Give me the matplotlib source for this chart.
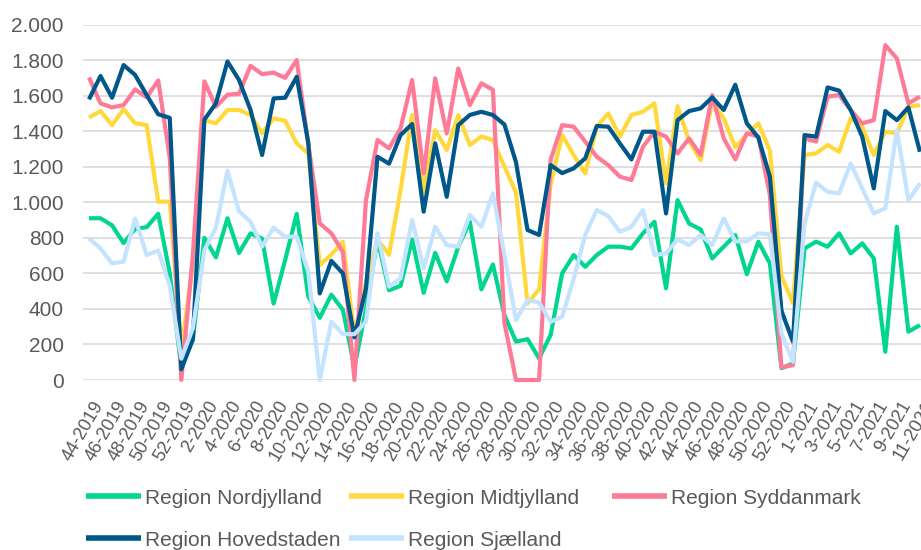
import matplotlib
matplotlib.use("Agg")
import matplotlib.pyplot as plt
from matplotlib.ticker import FuncFormatter, FixedLocator
from matplotlib.transforms import ScaledTranslation

weeks = ([f"{w}-2019" for w in range(44, 53)] +
         [f"{w}-2020" for w in range(1, 54)] +
         [f"{w}-2021" for w in range(1, 12)])

nordjylland = [910, 910, 870, 770, 850, 860, 935, 600, 70, 225,
               800, 690, 910, 715, 825, 795, 430, 675, 935, 470,
               350, 480, 395, 70, 400, 790, 505, 530, 790, 490,
               715, 555, 750, 890, 510, 650, 365, 216, 230, 122,
               253, 600, 703, 637, 703, 750, 750, 740, 825, 890,
               516, 1012, 880, 847, 684, 750, 815, 595, 778, 656,
               66, 94, 740, 778, 750, 825, 712, 769, 684, 159,
               862, 272, 309]

midtjylland = [1477, 1513, 1434, 1524, 1444, 1434, 1003, 1003, 170, 650,
               1462, 1444, 1519, 1519, 1491, 1388, 1472, 1459, 1331, 1275,
               647, 705, 778, 255, 550, 790, 705, 1069, 1491, 1059,
               1406, 1294, 1491, 1322, 1370, 1350, 1200, 1055, 431, 510,
               1100, 1378, 1265, 1162, 1425, 1500, 1369, 1491, 1509, 1556,
               1106, 1541, 1345, 1237, 1566, 1472, 1310, 1380, 1444, 1290,
               585, 431, 1266, 1275, 1322, 1284, 1472, 1425, 1266, 1397,
               1388, 1537, 1547]

syddanmark = [1702, 1556, 1534, 1547, 1635, 1590, 1685, 1250, 0, 700,
              1680, 1537, 1605, 1610, 1768, 1721, 1729, 1700, 1800, 1330,
              881, 825, 720, 0, 1012, 1350, 1303, 1416, 1688, 1162,
              1697, 1387, 1753, 1547, 1669, 1633, 320, 0, 0, 0,
              1240, 1434, 1425, 1341, 1256, 1209, 1144, 1125, 1312, 1397,
              1369, 1275, 1359, 1266, 1603, 1359, 1241, 1388, 1369, 1040,
              70, 84, 1359, 1341, 1594, 1603, 1519, 1444, 1462, 1884,
              1809, 1556, 1594]

hovedstaden = [1579, 1710, 1588, 1772, 1716, 1603, 1495, 1475, 60, 230,
               1465, 1556, 1792, 1688, 1519, 1266, 1584, 1588, 1706, 1335,
               487, 670, 600, 240, 515, 1256, 1217, 1378, 1440, 947,
               1331, 1031, 1434, 1491, 1509, 1491, 1437, 1225, 844, 816,
               1209, 1164, 1191, 1247, 1429, 1425, 1331, 1241, 1397, 1397,
               937, 1462, 1513, 1528, 1590, 1519, 1661, 1444, 1364, 1144,
               390, 215, 1378, 1369, 1646, 1628, 1519, 1369, 1078, 1513,
               1462, 1534, 1284]

sjaelland = [797, 740, 656, 666, 909, 703, 729, 530, 120, 290,
             730, 857, 1177, 950, 890, 750, 857, 806, 806, 610,
             0, 328, 258, 258, 328, 825, 525, 572, 900, 628,
             862, 759, 750, 928, 862, 1050, 705, 337, 450, 436,
             328, 356, 570, 816, 956, 922, 834, 862, 956, 703,
             712, 791, 759, 816, 759, 909, 780, 780, 825, 820,
             262, 103, 881, 1110, 1059, 1050, 1219, 1078, 937, 966,
             1406, 1012, 1106]

series_names = ["Region Nordjylland", "Region Midtjylland", "Region Syddanmark",
                "Region Hovedstaden", "Region Sjælland"]
series_values = [nordjylland, midtjylland, syddanmark, hovedstaden, sjaelland]
series_colors = ["#00d68f", "#ffd93b", "#ff7a96", "#00578a", "#c4e3ff"]

yticks = [0, 200, 400, 600, 800, 1000, 1200, 1400, 1600, 1800, 2000]

plt.rcParams['font.family'] = ['Liberation Sans', 'DejaVu Sans']
TXT = "#595959"

fig = plt.figure(figsize=(9.21, 5.5), dpi=100)
W, H = 921, 550
x0, x1 = 83.2, 925.7
ytop, ybot = 24.5, 380.0
ax = fig.add_axes([x0 / W, 1 - ybot / H, (x1 - x0) / W, (ybot - ytop) / H])

x = list(range(len(weeks)))
lines = []
for name, vals, col in zip(series_names, series_values, series_colors):
    ln, = ax.plot(x, vals, color=col, lw=3.0, label=name, clip_on=False,
                  solid_joinstyle='round', solid_capstyle='butt', zorder=3)
    lines.append(ln)

ax.set_xlim(-0.5, len(weeks) - 0.5)
ax.set_ylim(0, 2000)
ax.set_yticks(yticks)
ax.yaxis.set_major_formatter(FuncFormatter(lambda v, p: f"{v:,.0f}".replace(",", ".")))
ax.grid(axis='y', color='#d9d9d9', lw=1.2, zorder=0)
ax.set_axisbelow(True)
for s in ax.spines.values():
    s.set_visible(False)

tick_idx = list(range(0, len(weeks), 2))
ax.xaxis.set_major_locator(FixedLocator(tick_idx))
ax.set_xticklabels([weeks[i] for i in tick_idx], rotation=60, ha='right',
                   va='top', rotation_mode='anchor', fontsize=13, color=TXT)
ax.tick_params(axis='x', length=0, pad=13)
ax.tick_params(axis='y', length=0, pad=14, labelsize=15, labelcolor=TXT)
off = ScaledTranslation(3 / 100, 0, fig.dpi_scale_trans)
for lab in ax.get_xticklabels():
    lab.set_transform(lab.get_transform() + off)

# legend entries placed like the reference (row-wise, fixed columns)
legend_pos = [(86, 498), (349, 498), (612, 498), (86, 540), (349, 540)]
for ln, name, (lx, ly) in zip(lines, series_names, legend_pos):
    lg = fig.legend([ln], [name], loc='center left',
                    bbox_to_anchor=(lx / W, 1 - ly / H),
                    frameon=False, fontsize=15, handlelength=2.65,
                    handletextpad=0.2, borderpad=0, borderaxespad=0)
    for l in lg.get_lines():
        l.set_linewidth(4)
    for t in lg.get_texts():
        t.set_color(TXT)

fig.savefig("out.png", dpi=100)
